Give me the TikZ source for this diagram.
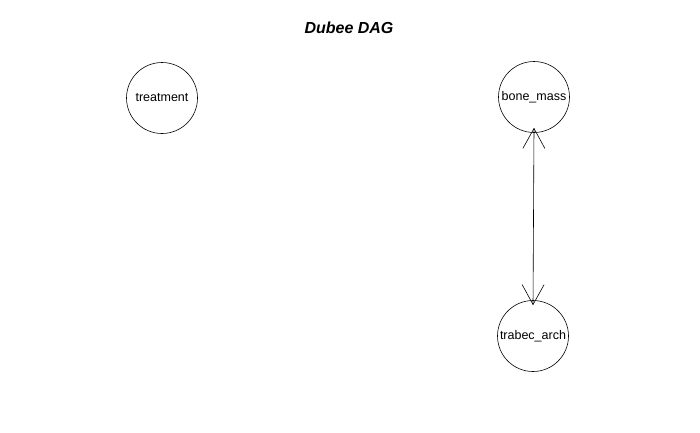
\documentclass[tikz,border=0pt]{standalone}
\usepackage{fontspec}
\setmainfont{Liberation Sans}
\usetikzlibrary{arrows.meta}
\begin{document}
\begin{tikzpicture}[x=1pt,y=-1pt,
  vertex/.style={draw=black,circle,minimum size=71pt,inner sep=0pt,line width=0.6pt,font=\fontsize{12.5}{14}\selectfont},
  edge/.style={line width=0.6pt,{Straight Barb[length=20pt,width=22pt,line width=0.6pt]}-{Straight Barb[length=20pt,width=22pt,line width=0.6pt]}}]
\useasboundingbox (0,0) rectangle (700,432);
\node[font=\fontsize{16}{18}\selectfont\bfseries\itshape] (title) at (349,28) {Dubee DAG};
\node[vertex] (treatment) at (162,98) {treatment};
\node[vertex] (bone) at (534,97) {bone\_mass};
\node[vertex] (trabec) at (533,336) {trabec\_arch};
\draw[edge] ([yshift=5pt]bone.south) -- ([yshift=-5pt]trabec.north);
\end{tikzpicture}
\end{document}
